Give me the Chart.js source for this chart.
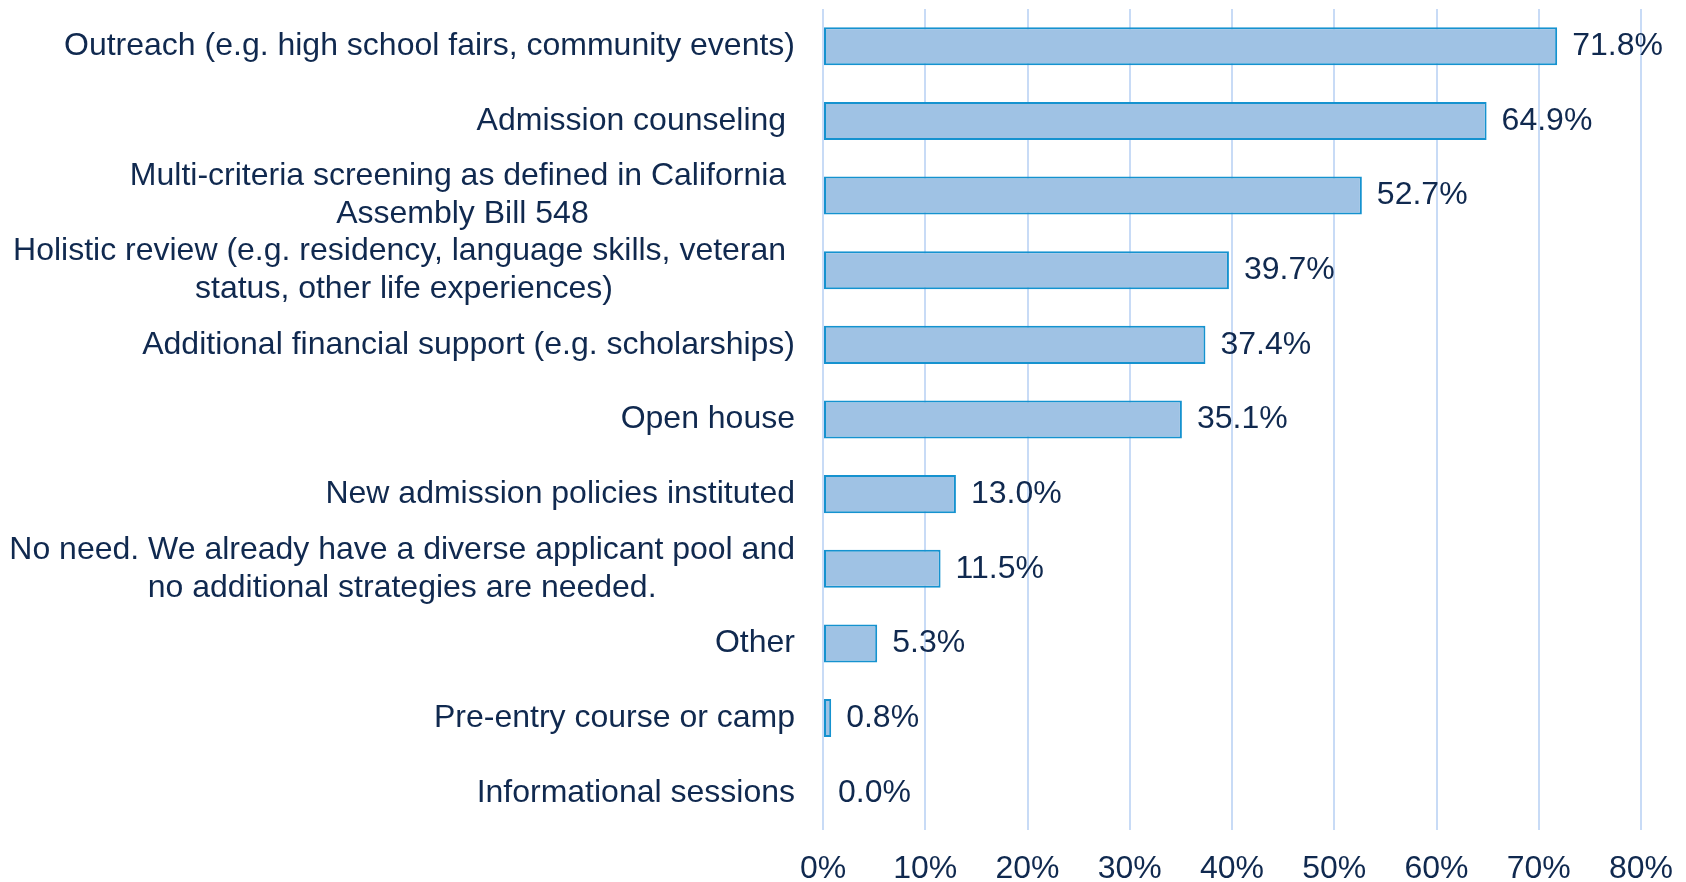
<!DOCTYPE html>
<html>
<head>
<meta charset="utf-8">
<script src="https://cdn.jsdelivr.net/npm/chart.js@4.4.1/dist/chart.umd.min.js"></script>
<style>
  html, body { margin: 0; padding: 0; background: #ffffff; }
  #wrap { width: 1686px; height: 882px; position: relative; }
</style>
</head>
<body>
<div id="wrap"><canvas id="myChart"></canvas></div>
<script>
// strategies (multi-line entries are wrapped the same way as the printed labels)
const strategies = [
    ['Outreach (e.g. high school fairs, community events)'],
    ['Admission counseling '],
    ['Multi-criteria screening as defined in California ', 'Assembly Bill 548'],
    ['Holistic review (e.g. residency, language skills, veteran ', 'status, other life experiences)'],
    ['Additional financial support (e.g. scholarships)'],
    ['Open house'],
    ['New admission policies instituted'],
    ['No need. We already have a diverse applicant pool and', 'no additional strategies are needed.'],
    ['Other'],
    ['Pre-entry course or camp'],
    ['Informational sessions']
];

// share of respondents, percent
const shares = [71.8, 64.9, 52.7, 39.7, 37.4, 35.1, 13.0, 11.5, 5.3, 0.8, 0.0];

// x axis ticks
const tickValues = [0, 10, 20, 30, 40, 50, 60, 70, 80];

const FONT = 'Liberation Sans, Arial, sans-serif';
const TEXT = '#10294F';

// category labels: block right aligned against the axis, lines centred inside the block
const categoryLabels = {
    id: 'categoryLabels',
    afterDraw(chart) {
        const ctx = chart.ctx;
        const yScale = chart.scales.y;
        const right = 795;
        const lineH = 38;
        ctx.save();
        ctx.font = '32px ' + FONT;
        ctx.fillStyle = TEXT;
        ctx.textBaseline = 'middle';
        strategies.forEach((lines, i) => {
            const y = yScale.getPixelForTick(i);
            if (lines.length === 1) {
                ctx.textAlign = 'right';
                ctx.fillText(lines[0], right, y);
                return;
            }
            // trailing spaces stay in the measured width, as in the wrapped text
            const widest = Math.max(...lines.map(l => ctx.measureText(l).width));
            const startY = y - (lines.length - 1) * lineH / 2;
            ctx.textAlign = 'center';
            lines.forEach((line, j) => {
                ctx.fillText(line, right - widest / 2, startY + j * lineH);
            });
        });
        ctx.restore();
    }
};

// value labels at the end of each bar
const valueLabels = {
    id: 'valueLabels',
    afterDraw(chart) {
        const ctx = chart.ctx;
        const meta = chart.getDatasetMeta(0);
        ctx.save();
        ctx.font = '32px ' + FONT;
        ctx.fillStyle = TEXT;
        ctx.textAlign = 'left';
        ctx.textBaseline = 'middle';
        meta.data.forEach((bar, i) => {
            ctx.fillText(shares[i].toFixed(1) + '%', bar.x + 15, bar.y);
        });
        ctx.restore();
    }
};

const ctx = document.getElementById('myChart').getContext('2d');
const myChart = new Chart(ctx, {
    type: 'bar',
    data: {
        labels: strategies.map(l => l.join(' ')),
        datasets: [{
            data: shares,
            backgroundColor: '#9FC2E4',
            borderColor: '#1592CF',
            borderWidth: 2,
            borderSkipped: false,
            categoryPercentage: 1,
            barPercentage: 0.51
        }]
    },
    options: {
        indexAxis: 'y',
        responsive: true,
        maintainAspectRatio: false,
        animation: false,
        layout: { padding: { top: 9, right: 45, bottom: 0, left: 0 } },
        plugins: {
            legend: { display: false },
            tooltip: { enabled: false }
        },
        scales: {
            x: {
                min: 0,
                max: 80,
                z: 1,
                afterBuildTicks(scale) {
                    scale.ticks = tickValues.map(v => ({ value: v }));
                },
                afterFit(scale) { scale.height = 52; },
                // invisible tick marks give the gap under the plot
                grid: { color: '#C8DBF6', lineWidth: 2, drawTicks: true, tickLength: 20, tickColor: 'rgba(0,0,0,0)' },
                border: { display: false },
                ticks: {
                    padding: 0,
                    color: TEXT,
                    font: { family: FONT, size: 32 },
                    callback: v => v + '%'
                }
            },
            y: {
                afterFit(scale) { scale.width = 823; },
                grid: { display: false },
                border: { display: false },
                ticks: { display: false }
            }
        }
    },
    plugins: [categoryLabels, valueLabels]
});
</script>
</body>
</html>
